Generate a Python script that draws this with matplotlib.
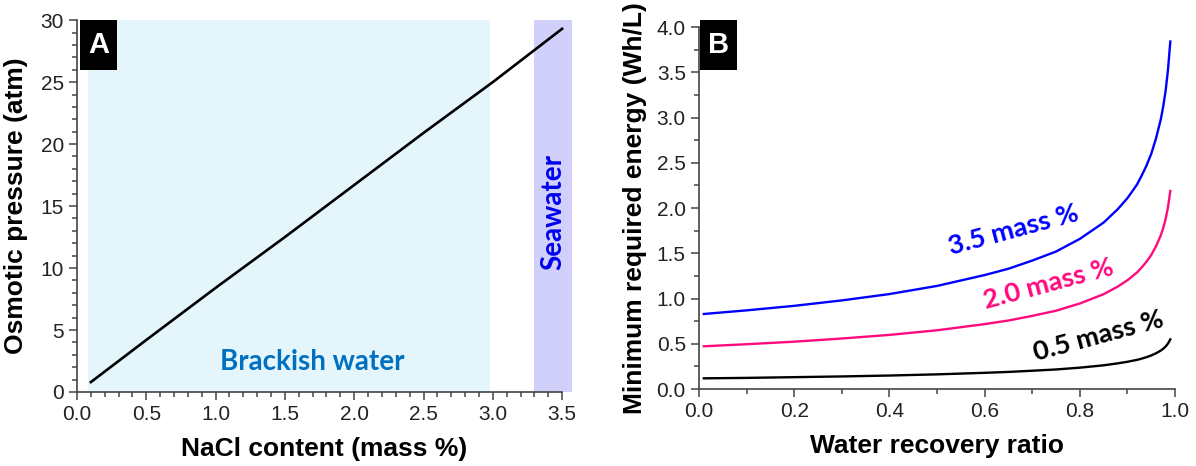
import matplotlib
matplotlib.use("Agg")
import matplotlib.pyplot as plt
from matplotlib.patches import Rectangle
from matplotlib.ticker import MultipleLocator, FormatStrFormatter

# ---------------------------------------------------------------------------
# Data
# ---------------------------------------------------------------------------
# Panel A: osmotic pressure vs NaCl content
nacl_pct   = [0.1, 0.5, 1.0, 1.5, 2.0, 2.5, 3.0, 3.5]
osm_atm    = [0.8, 4.2, 8.4, 12.5, 16.7, 20.9, 25.0, 29.3]
brackish_range = (0.08, 2.98)
seawater_range = (3.30, 3.57)

# Panel B: minimum energy vs recovery ratio
recovery   = [0.01, 0.1, 0.2, 0.3, 0.4, 0.5, 0.6, 0.65, 0.7, 0.75, 0.8,
              0.85, 0.88, 0.9, 0.92, 0.93, 0.94, 0.95, 0.96, 0.97, 0.975,
              0.98, 0.985, 0.99]
e_35       = [0.83, 0.87, 0.92, 0.98, 1.05, 1.14, 1.26, 1.33, 1.42, 1.52, 1.66,
              1.84, 1.99, 2.11, 2.26, 2.36, 2.47, 2.60, 2.77, 2.98, 3.12,
              3.29, 3.52, 3.84]
e_20       = [0.473, 0.496, 0.524, 0.559, 0.599, 0.650, 0.718, 0.758, 0.809,
              0.866, 0.946, 1.049, 1.134, 1.203, 1.288, 1.345, 1.408, 1.482,
              1.579, 1.699, 1.778, 1.875, 2.006, 2.189]
e_05       = [0.119, 0.124, 0.132, 0.140, 0.150, 0.163, 0.180, 0.190, 0.203,
              0.217, 0.237, 0.263, 0.285, 0.302, 0.323, 0.337, 0.353, 0.372,
              0.396, 0.426, 0.446, 0.470, 0.503, 0.549]
series_labels = ["3.5 mass %", "2.0 mass %", "0.5 mass %"]

# ---------------------------------------------------------------------------
# Style
# ---------------------------------------------------------------------------
plt.rcParams["font.family"] = ["Liberation Sans", "DejaVu Sans"]
TICK_FS  = 15
LABEL_FS = 19
SPINE_C  = "#444444"
LABEL_FONT = "Lato"

BLUE = "#0000FF"
PINK = "#FF0A7E"


def style_axes(ax):
    for side in ("top", "right"):
        ax.spines[side].set_visible(False)
    for side in ("left", "bottom"):
        ax.spines[side].set_color(SPINE_C)
        ax.spines[side].set_linewidth(1.2)
    ax.tick_params(which="both", direction="out", colors=SPINE_C,
                   labelcolor="#222222", labelsize=TICK_FS, width=1.1)
    ax.tick_params(which="major", length=6)
    ax.tick_params(which="minor", length=3.5)


fig = plt.figure(figsize=(11.96, 4.66), dpi=100)

# ---------------------------------------------------------------------------
# Panel A
# ---------------------------------------------------------------------------
axA = fig.add_axes([0.0644, 0.1588, 0.4137, 0.798])
axA.axvspan(*brackish_range, color="#E4F5FC", lw=0, zorder=0)
axA.axvspan(*seawater_range, color="#D0D0FA", lw=0, zorder=0)
axA.plot(nacl_pct, osm_atm, color="black", lw=1.9, zorder=3)
axA.set_xlim(0, 3.57)
axA.set_ylim(0, 30)
style_axes(axA)
axA.spines["bottom"].set_bounds(0, 3.5)
axA.xaxis.set_major_locator(MultipleLocator(0.5))
axA.xaxis.set_major_formatter(FormatStrFormatter("%.1f"))
axA.set_xticks([t / 10 for t in range(0, 36)], minor=True)
axA.yaxis.set_major_locator(MultipleLocator(5))
axA.yaxis.set_minor_locator(MultipleLocator(1))
axA.set_xlabel("NaCl content (mass %)", fontsize=LABEL_FS,
               fontweight="bold", labelpad=9)
axA.set_ylabel("Osmotic pressure (atm)", fontsize=LABEL_FS,
               fontweight="bold", labelpad=9)
axA.text(1.70, 2.4, "Brackish water", color="#0070C0", fontsize=20,
         fontweight="bold", family=LABEL_FONT, ha="center", va="center")
axA.text(3.435, 14.5, "Seawater", color="#0000F0", fontsize=20,
         fontweight="bold", family=LABEL_FONT, rotation=90,
         ha="center", va="center")

# ---------------------------------------------------------------------------
# Panel B
# ---------------------------------------------------------------------------
axB = fig.add_axes([0.5845, 0.165, 0.398, 0.777])
axB.plot(recovery, e_35, color=BLUE, lw=1.7)
axB.plot(recovery, e_20, color=PINK, lw=1.7)
axB.plot(recovery, e_05, color="black", lw=1.7)
axB.set_xlim(0, 1.0)
axB.set_ylim(0, 4.0)
style_axes(axB)
axB.xaxis.set_major_locator(MultipleLocator(0.2))
axB.xaxis.set_minor_locator(MultipleLocator(0.1))
axB.xaxis.set_major_formatter(FormatStrFormatter("%.1f"))
axB.yaxis.set_major_locator(MultipleLocator(0.5))
axB.yaxis.set_minor_locator(MultipleLocator(0.25))
axB.yaxis.set_major_formatter(FormatStrFormatter("%.1f"))
axB.set_xlabel("Water recovery ratio", fontsize=LABEL_FS,
               fontweight="bold", labelpad=9)
axB.set_ylabel("Minimum required energy (Wh/L)", fontsize=LABEL_FS,
               fontweight="bold", labelpad=7)

label_pos = [(0.66, 1.76, BLUE), (0.735, 1.16, PINK), (0.84, 0.59, "black")]
for text, (x, y, c) in zip(series_labels, label_pos):
    axB.text(x, y, text, color=c, fontsize=19.5, fontweight="bold",
             family=LABEL_FONT, rotation=15, ha="center", va="center")

# ---------------------------------------------------------------------------
# Panel letters
# ---------------------------------------------------------------------------
for letter, x0 in (("A", 80 / 1196), ("B", 700 / 1196)):
    fig.patches.append(Rectangle((x0, 0.8498), 37 / 1196, 0.108,
                                 transform=fig.transFigure,
                                 facecolor="black", edgecolor="none"))
    fig.text(x0 + 18.5 / 1196, 0.8498 + 0.054, letter, color="white",
             fontsize=21, fontweight="bold", ha="center", va="center")

fig.savefig("out.png", dpi=100)
